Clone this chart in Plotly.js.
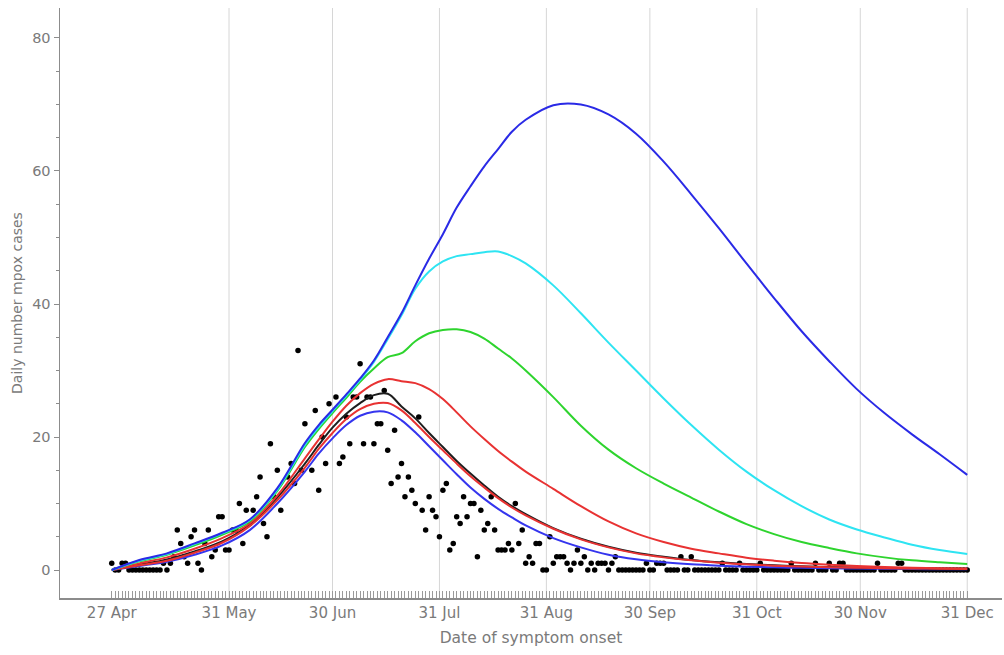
<!DOCTYPE html>
<html>
<head>
<meta charset="utf-8">
<script src="https://cdn.plot.ly/plotly-3.0.1.min.js"></script>
<style>html,body{margin:0;padding:0;background:#fff;}#chart{width:1004px;height:655px;}</style>
</head>
<body>
<div id="chart"></div>
<script>
// ---- data ----
const caseStart = '2022-04-27';
const dailyCases = [
 1,0,0,1,1,0,0,0,0,0, 0,0,0,0,0,1,0,1,2,6,
 4,2,1,5,6,1,0,4,6,2, 3,8,8,3,3,6,6,10,4,9,
 7,9,11,14,7,5,19,11,15,9, null,14,16,13,33,15,22,null,15,24,
 12,20,16,25,null,26,16,17,23,19, 26,26,31,19,26,26,19,22,22,27,
 18,13,21,14,16,11,14,12,10,23, 9,6,11,9,8,5,12,13,3,4,
 8,7,11,8,10,10,2,9,6,7, 11,6,3,3,3,4,3,10,4,6,
 1,2,1,4,4,0,0,5,1,2, 2,2,1,0,1,3,1,2,0,1,
 0,1,1,1,0,1,2,0,0,0, 0,0,0,0,0,1,0,0,1,1,
 1,0,0,0,0,2,0,0,2,0, 0,0,0,0,0,0,0,1,0,0,
 0,0,1,0,0,0,0,0,1,0, 0,0,0,0,0,0,0,1,0,0,
 0,0,0,0,1,0,0,0,1,0, 0,1,1,0,0,0,0,0,0,0,
 0,0,1,0,0,0,0,0,1,1, 0,0,0,0,0,0,0,0,0,0,
 0,0,0,0,0,0,0,0,0
];

const modelDates = ['2022-04-27','2022-05-05','2022-05-13','2022-05-21','2022-05-29','2022-06-06','2022-06-14','2022-06-22',
 '2022-06-26','2022-06-30','2022-07-04','2022-07-08','2022-07-12','2022-07-16','2022-07-20','2022-07-24','2022-07-28','2022-08-01',
 '2022-08-05','2022-08-09','2022-08-13','2022-08-17','2022-08-21','2022-08-25',
 '2022-09-02','2022-09-10','2022-09-18','2022-09-26','2022-10-04','2022-10-12','2022-10-20','2022-10-28',
 '2022-11-05','2022-11-13','2022-11-21','2022-11-29','2022-12-07','2022-12-15','2022-12-23','2022-12-31'];

const blueHigh   = [0.0,1.5,2.5,4.0,5.6,7.6,12.3,19.1, 21.8,24.1,26.4,28.8,31.5,35.0,38.6,42.8,46.8,50.5, 54.5,57.7,60.7,63.3,65.9,67.7, 69.9,70.0,68.5,65.6,61.4,56.5,51.4,46.1, 40.9,35.9,31.4,27.2,23.6,20.4,17.4,14.3];
const cyanCurve  = [0.0,1.4,2.4,3.9,5.5,7.5,12.1,18.8, 21.5,23.9,26.2,28.6,31.3,34.7,38.3,42.3,44.9,46.4, 47.2,47.5,47.8,47.9,47.2,46.1, 42.8,38.6,34.2,30.0,25.8,21.8,18.1,14.8, 12.0,9.6,7.6,6.1,4.9,3.8,3.0,2.4];
const greenCurve = [0.0,1.3,2.3,3.7,5.3,7.3,11.9,18.5, 21.2,23.6,25.9,28.3,30.3,32.0,32.6,34.4,35.6,36.1, 36.2,35.8,34.8,33.3,31.8,30.0, 26.0,21.7,18.1,15.3,13.0,10.9,8.8,6.9, 5.4,4.2,3.3,2.5,1.9,1.45,1.15,0.9];
const redHigh    = [0.0,1.0,1.9,3.2,4.8,7.0,11.2,16.8, 19.6,22.3,24.7,26.6,28.0,28.7,28.4,28.1,27.2,25.7, 23.7,21.6,19.7,17.9,16.3,14.8, 12.2,9.6,7.3,5.5,4.2,3.2,2.5,1.85, 1.4,1.05,0.8,0.6,0.45,0.35,0.28,0.22];
const blackCurve = [0.0,0.8,1.6,2.8,4.3,6.8,10.9,16.0, 18.8,21.4,23.5,25.1,26.3,26.5,24.6,22.8,20.6,18.5, 16.4,14.5,12.7,11.0,9.6,8.4, 6.3,4.7,3.5,2.6,2.0,1.5,1.15,0.9, 0.7,0.55,0.45,0.37,0.3,0.25,0.2,0.17];
const redLow     = [0.0,0.7,1.4,2.6,4.1,6.6,10.5,15.4, 18.2,20.6,22.7,24.2,25.0,25.1,24.0,22.1,20.0,18.0, 16.0,14.1,12.4,10.8,9.4,8.2, 6.2,4.6,3.4,2.5,1.9,1.45,1.1,0.85, 0.65,0.52,0.42,0.35,0.28,0.23,0.19,0.16];
const blueLow    = [0.0,0.6,1.25,2.3,3.7,6.0,10.0,14.8, 17.5,19.8,21.8,23.2,23.8,23.7,22.5,20.7,18.6,16.5, 14.4,12.4,10.7,9.2,7.9,6.7, 4.8,3.4,2.3,1.6,1.15,0.85,0.65,0.5, 0.4,0.32,0.26,0.21,0.17,0.14,0.12,0.1];

const tickDates = ['2022-04-27','2022-05-31','2022-06-30','2022-07-31','2022-08-31','2022-09-30','2022-10-31','2022-11-30','2022-12-31'];
const tickLabels = ['27 Apr','31 May','30 Jun','31 Jul','31 Aug','30 Sep','31 Oct','30 Nov','31 Dec'];
const gridDates = tickDates.slice(1);
const yTicks = [0,20,40,60,80];

// ---- build ----
function dayDate(i){
  const t = Date.parse(caseStart + 'T00:00:00Z') + i*86400000;
  return new Date(t).toISOString().slice(0,10);
}
const caseDates = dailyCases.map((v,i)=>dayDate(i));
const dayTicks = dailyCases.map((v,i)=>dayDate(i));

const xRange = ['2022-04-12', '2023-01-10 02:00'];
const tickGray = '#7a7a7a';
const axisGray = '#8c8c8c';

function curve(y, color){
  return {x: modelDates, y: y, xaxis:'x2', yaxis:'y', type:'scatter', mode:'lines',
    line:{color:color, width:2, shape:'spline', smoothing:1}, hoverinfo:'skip', showlegend:false};
}

const traces = [
  {x: caseDates, y: dailyCases, type:'scatter', mode:'markers', xaxis:'x', yaxis:'y',
   marker:{color:'#000', size:5.5}, hoverinfo:'skip', showlegend:false},
  curve(blueLow, '#3535ee'),
  curve(blackCurve, '#1e1e1e'),
  curve(redLow, '#e83232'),
  curve(redHigh, '#e83232'),
  curve(greenCurve, '#2ed42e'),
  curve(cyanCurve, '#2ee4f2'),
  curve(blueHigh, '#2a2ae6')
];

const shapes = gridDates.map(d=>({type:'line', xref:'x', yref:'paper', x0:d, x1:d, y0:0, y1:1,
  line:{color:'#d6d6d6', width:1}, layer:'below'}));

const layout = {
  width:1004, height:655,
  margin:{l:60, r:2, t:8, b:57},
  paper_bgcolor:'#fff', plot_bgcolor:'#fff',
  showlegend:false,
  shapes: shapes,
  xaxis:{type:'date', range:xRange, tickmode:'array', tickvals:tickDates, ticktext:tickLabels,
    ticks:'', showgrid:false, zeroline:false, showline:true, linecolor:axisGray, linewidth:1.5,
    tickfont:{family:'DejaVu Sans', size:15, color:tickGray},
    title:{text:'Date of symptom onset', font:{family:'DejaVu Sans', size:15.5, color:tickGray}, standoff:11},
    fixedrange:true},
  xaxis2:{type:'date', range:xRange, overlaying:'x', anchor:'y', side:'bottom',
    tickmode:'array', tickvals:dayTicks, ticks:'inside', ticklen:7, tickwidth:1, tickcolor:'#9a9a9a',
    showticklabels:false, showgrid:false, zeroline:false, showline:false, fixedrange:true},
  yaxis:{range:[-4.21, 84.51], tickmode:'array', tickvals:yTicks, ticks:'outside', ticklen:5, tickwidth:1,
    tickcolor:axisGray, showgrid:false, zeroline:false, showline:true, linecolor:axisGray, linewidth:1.5,
    minor:{tickmode:'linear', tick0:0, dtick:5, ticks:'outside', ticklen:3, tickcolor:axisGray, showgrid:false},
    tickfont:{family:'DejaVu Sans', size:14.5, color:tickGray},
    title:{text:'Daily number mpox cases', font:{family:'DejaVu Sans', size:14, color:tickGray}, standoff:6},
    fixedrange:true}
};

Plotly.newPlot('chart', traces, layout, {staticPlot:true, displayModeBar:false});
</script>
</body>
</html>
